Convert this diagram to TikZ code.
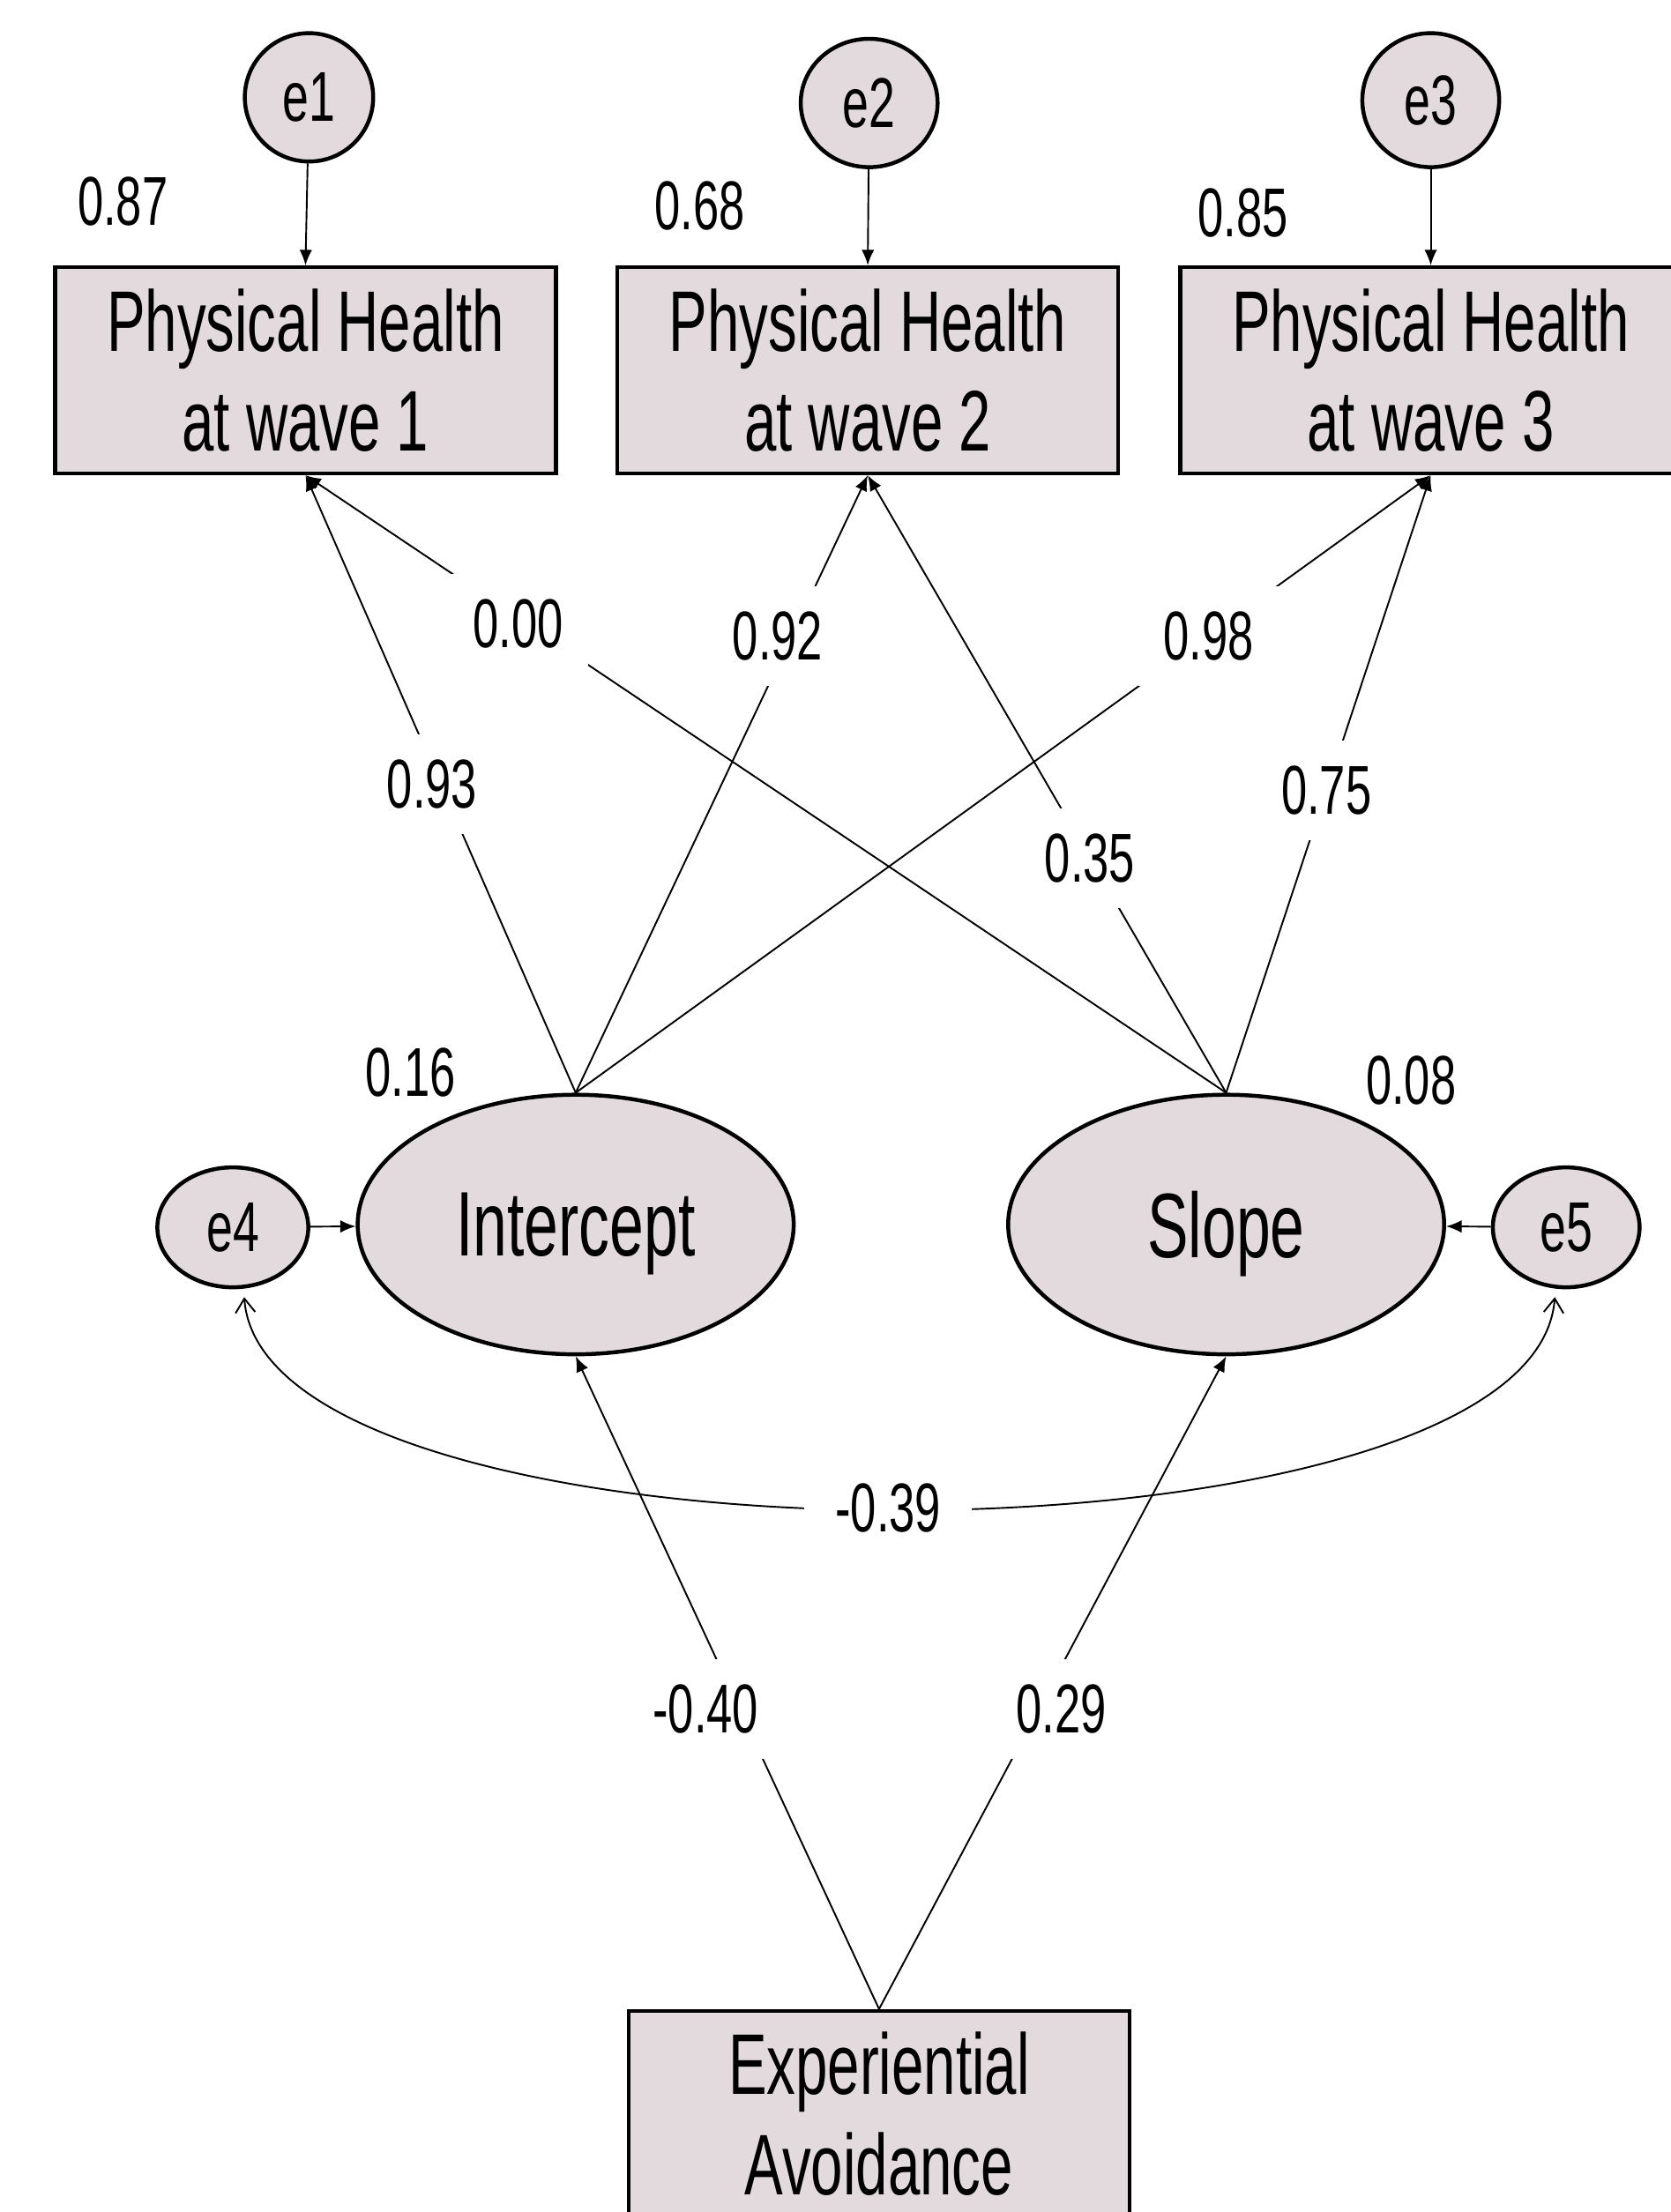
\documentclass[tikz,border=0pt]{standalone}
\usepackage{fontspec}
\setmainfont[FakeStretch=0.67]{Liberation Sans}
\usetikzlibrary{arrows.meta,shapes.geometric}
\definecolor{nodefill}{RGB}{227,218,222}

\begin{document}
\begin{tikzpicture}[x=1pt,y=1pt]
            \tikzstyle{obs node}=[rectangle,draw,line width=2.8pt,fill=nodefill,minimum width=355pt,minimum height=146pt,align=center,font=\fontsize{61}{71}\selectfont]
            \tikzstyle{lat node}=[ellipse,draw,line width=2.8pt,fill=nodefill,minimum width=309pt,minimum height=184pt,inner sep=0pt,text depth=0pt,font=\fontsize{65}{70}\selectfont]
            \tikzstyle{err node}=[ellipse,draw,line width=2.8pt,fill=nodefill,inner sep=0pt,font=\fontsize{50}{56}\selectfont]
            \tikzstyle{est}=[font=\fontsize{49}{55}\selectfont,inner sep=0pt]
            \tikzstyle{est on}=[est,fill=white,inner sep=18pt]
            \tikzstyle{reg edge}=[line width=1.2pt,-{Latex[length=11pt,width=9pt]}]
            \tikzstyle{cov edge}=[line width=1.2pt,{Straight Barb[length=10pt,width=14pt]}-{Straight Barb[length=10pt,width=14pt]}]

            \useasboundingbox (0,0) rectangle (1184,-1568);

            \node(e1)[err node,minimum width=91pt,minimum height=91pt] at (219,-69) {e1};
            \node(e2)[err node,minimum width=97pt,minimum height=91pt] at (616,-73) {e2};
            \node(e3)[err node,minimum width=97pt,minimum height=95pt] at (1014,-71) {e3};

            \node(w1)[obs node] at (216.5,-262.5) {Physical Health\\at wave 1};
            \node(w2)[obs node] at (615,-262.5) {Physical Health\\at wave 2};
            \node(w3)[obs node] at (1014,-262.5) {Physical Health\\at wave 3};

            \node(r1)[est] at (87,-143) {0.87};
            \node(r2)[est] at (496,-146) {0.68};
            \node(r3)[est] at (881,-151) {0.85};

            \node(icpt)[lat node] at (408,-868) {Intercept};
            \node(slope)[lat node] at (869,-868) {Slope};
            \node(e4)[err node,minimum width=107pt,minimum height=85pt] at (165,-870) {e4};
            \node(e5)[err node,minimum width=104pt,minimum height=85pt] at (1110,-870) {e5};
            \node(r4)[est] at (291,-760) {0.16};
            \node(r5)[est] at (1000,-766) {0.08};

            \node(ea)[obs node] at (623,-1498.5) {Experiential\\Avoidance};

            \draw[reg edge] (e1) -- (w1.north);
            \draw[reg edge] (e2) -- (w2.north);
            \draw[reg edge] (e3) -- (w3.north);
            \draw[reg edge] (e4) -- (icpt);
            \draw[reg edge] (e5) -- (slope);

            \draw[reg edge] (icpt.north) -- (w1.south) node[est on,pos=0.5,xshift=-6pt]{0.93};
            \draw[reg edge] (icpt.north) -- (w2.south) node[est on,pos=0.74,xshift=-10pt]{0.92};
            \draw[reg edge] (icpt.north) -- (w3.south) node[est on,pos=0.74]{0.98};
            \draw[reg edge] (slope.north) -- (w1.south) node[est on,pos=0.76,xshift=-6pt]{0.00};
            \draw[reg edge] (slope.north) -- (w2.south) node[est on,pos=0.38]{0.35};
            \draw[reg edge] (slope.north) -- (w3.south) node[est on,pos=0.49]{0.75};

            \draw[reg edge] (ea.north) -- (icpt.south) node[est on,pos=0.46,xshift=-24pt]{-0.40};
            \draw[reg edge] (ea.north) -- (slope.south) node[est on,pos=0.46,xshift=16pt]{0.29};

            \draw[cov edge,shorten <=6pt,shorten >=6pt] (e4.-80) .. controls +(15,-207) and +(-15,-207) .. (e5.-100)
            node[est on,pos=0.5,inner xsep=22pt,xshift=-8pt]{-0.39};
\end{tikzpicture}
\end{document}
